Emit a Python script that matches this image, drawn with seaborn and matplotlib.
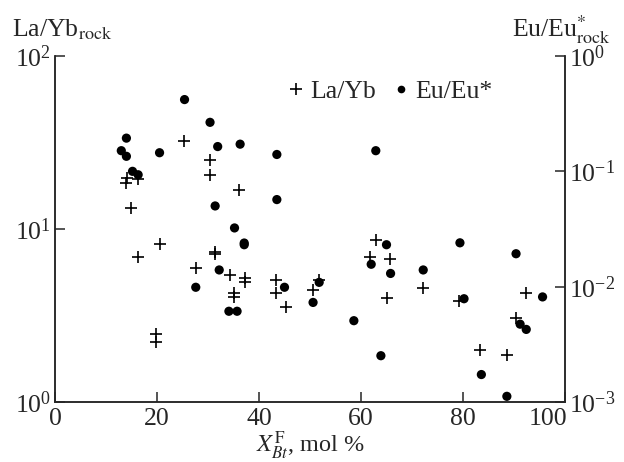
import matplotlib
matplotlib.use("Agg")
import matplotlib.pyplot as plt
import matplotlib.transforms as mtransforms
from matplotlib.lines import Line2D
from matplotlib.ticker import NullLocator
import seaborn as sns

# La/Yb ratios of the rocks versus fluorine content of biotite
la_x = [13.9, 14.2, 14.9, 16.2, 16.3, 19.9, 19.9, 20.5, 25.2, 27.6,
        30.4, 30.4, 31.3, 31.4, 34.3, 35.1, 35.1, 36.1, 37.3, 37.2,
        43.3, 43.3, 45.2, 50.6, 51.8, 61.7, 63.0, 65.1, 65.7, 72.2,
        79.3, 83.4, 88.7, 90.3, 92.4]
la_yb = [18.4, 19.8, 13.2, 19.4, 6.9, 2.47, 2.21, 8.15, 32.2, 5.97,
         25.1, 20.5, 7.4, 7.2, 5.4, 4.28, 4.03, 16.7, 5.18, 4.93,
         5.07, 4.26, 3.52, 4.46, 5.07, 6.9, 8.61, 3.98, 6.67, 4.55,
         3.82, 2.0, 1.87, 3.05, 4.26]

# Europium anomaly of the rocks
eu_x = [13.0, 14.0, 14.0, 15.2, 16.3, 20.5, 25.4, 27.6, 30.4, 31.4,
        31.9, 32.2, 34.1, 35.2, 35.7, 36.3, 37.1, 37.1, 43.5, 43.5,
        45.0, 50.6, 51.8, 58.6, 62.0, 62.9, 63.9, 65.0, 65.8, 72.2,
        79.4, 80.2, 83.6, 88.6, 90.4, 91.2, 92.4, 95.6]
eu_anom = [0.151, 0.194, 0.135, 0.100, 0.0934, 0.145, 0.419, 0.00988, 0.266, 0.0501,
           0.164, 0.01396, 0.00612, 0.0323, 0.00612, 0.172, 0.0239, 0.0231, 0.140, 0.0569,
           0.00988, 0.0073, 0.0109, 0.00507, 0.01564, 0.151, 0.00252, 0.0231, 0.01302, 0.01396,
           0.024, 0.00786, 0.00173, 0.00112, 0.0193, 0.00473, 0.00426, 0.00815]

x_ticks = [0, 20, 40, 60, 80, 100]

sns.set_style("ticks")
plt.rcParams["font.family"] = ["Liberation Serif", "DejaVu Serif"]
plt.rcParams["mathtext.fontset"] = "stix"
FS = 18.5

fig = plt.figure(figsize=(6.24, 4.62), dpi=100)
ax = fig.add_axes([55 / 624, 1 - 402 / 462, (565 - 55) / 624, (402 - 56) / 462])
ax2 = ax.twinx()

sns.scatterplot(x=la_x, y=la_yb, marker="+", s=80, color="black",
                linewidth=1.2, ax=ax, legend=False)
sns.scatterplot(x=eu_x, y=eu_anom, marker="o", s=44, color="black",
                edgecolor="none", ax=ax2, legend=False)

ax.set_xlim(0, 100)
ax.set_yscale("log")
ax.set_ylim(1, 100)
ax2.set_yscale("log")
ax2.set_ylim(1e-3, 1)
ax.set_xticks(x_ticks)
ax.set_yticks([1, 10, 100])
ax2.set_yticks([1e-3, 1e-2, 1e-1, 1])
for a in (ax, ax2):
    a.yaxis.set_minor_locator(NullLocator())
    a.spines["top"].set_visible(False)
    for s in ("left", "right", "bottom"):
        a.spines[s].set_linewidth(1.1)
    a.tick_params(direction="in", length=7, width=1.1, labelsize=FS, pad=3)
ax.tick_params(axis="x", pad=4)

# right-align the last x label so it stays clear of the right-hand axis labels
fig.canvas.draw()
last = ax.xaxis.get_major_ticks()[-1].label1
last.set_horizontalalignment("right")
last.set_transform(last.get_transform()
                   + mtransforms.ScaledTranslation(2 / 100, 0, fig.dpi_scale_trans))

ax.set_xlabel(r"$X^{\mathrm{F}}_{Bt}$, mol %", fontsize=17.5, labelpad=0)
ax.set_ylabel("")
ax2.set_ylabel("")

fig.text(12 / 624, 1 - 30 / 462, r"La/Yb$_{\mathrm{rock}}$", fontsize=FS,
         ha="left", va="center")
fig.text(611 / 624, 1 - 30 / 462, r"Eu/Eu$^{*}_{\mathrm{rock}}$", fontsize=FS,
         ha="right", va="center")

handles = [Line2D([], [], marker="+", ls="none", color="black", ms=8.5, mew=1.2),
           Line2D([], [], marker="o", ls="none", color="black", ms=5.5, mec="none")]
ax2.legend(handles, ["La/Yb", "Eu/Eu*"], ncol=2, frameon=False, fontsize=FS,
           loc="center", bbox_to_anchor=(389 / 624, 1 - 92 / 462),
           bbox_transform=fig.transFigure, handletextpad=0.15,
           columnspacing=0.6, handlelength=0.8)

fig.savefig("out.png", dpi=100)
